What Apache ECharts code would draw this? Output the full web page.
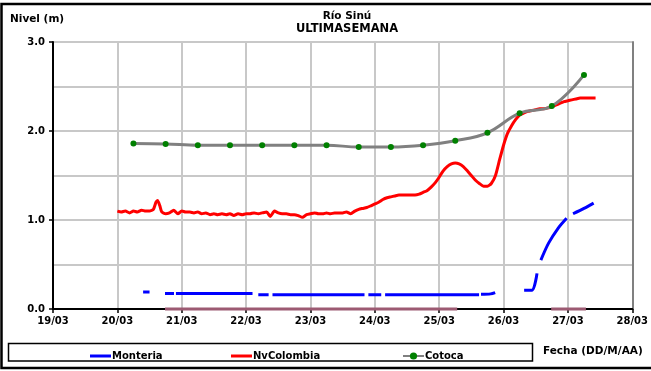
<!DOCTYPE html>
<html>
<head>
<meta charset="utf-8">
<script src="https://cdn.jsdelivr.net/npm/echarts@6/dist/echarts.min.js"></script>
<style>
  html, body { margin: 0; padding: 0; background: #fff; }
  #chart { width: 651px; height: 371px; }
</style>
</head>
<body>
<div id="chart"></div>
<script>
// Day ticks along the time axis (x = days since 19/03 00:00)
const dayLabels = ['19/03', '20/03', '21/03', '22/03', '23/03', '24/03', '25/03', '26/03', '27/03', '28/03'];
const levelLabels = ['0.0', '1.0', '2.0', '3.0'];

// Monteria gauge (null = missing reading, breaks the line)
const monteria = [
  [1.40, 0.19], [1.50, 0.19], [1.55, null],
  [1.74, 0.175], [1.88, 0.175], [1.895, null],
  [1.91, 0.175], [2.50, 0.175], [3.10, 0.175], [3.14, null],
  [3.19, 0.16], [3.35, 0.16], [3.38, null],
  [3.41, 0.16], [4.00, 0.16], [4.84, 0.16], [4.87, null],
  [4.90, 0.16], [5.10, 0.16], [5.13, null],
  [5.16, 0.16], [6.00, 0.16], [6.62, 0.16], [6.635, null],
  [6.65, 0.165], [6.80, 0.17], [6.87, 0.185], [7.00, null],
  [7.32, 0.21], [7.44, 0.21], [7.52, 0.40], [7.55, null],
  [7.58, 0.55], [7.70, 0.74], [7.85, 0.91], [7.98, 1.02], [8.03, null],
  [8.08, 1.07], [8.25, 1.13], [8.40, 1.19]
];

// NvColombia gauge
const nvColombia = [
  [1.000, 1.10], [1.060, 1.09], [1.125, 1.10], [1.190, 1.08], [1.250, 1.10], [1.310, 1.09],
  [1.375, 1.11], [1.440, 1.10], [1.500, 1.10], [1.560, 1.12], [1.600, 1.20], [1.625, 1.22],
  [1.660, 1.16], [1.690, 1.09], [1.750, 1.07], [1.810, 1.08], [1.875, 1.11], [1.940, 1.07],
  [2.000, 1.10], [2.060, 1.09], [2.125, 1.09], [2.190, 1.08], [2.250, 1.09], [2.310, 1.07],
  [2.375, 1.08], [2.440, 1.06], [2.500, 1.07], [2.560, 1.06], [2.625, 1.07], [2.690, 1.06],
  [2.750, 1.07], [2.810, 1.05], [2.875, 1.07], [2.940, 1.06], [3.000, 1.07], [3.060, 1.07],
  [3.125, 1.08], [3.190, 1.07], [3.250, 1.08], [3.320, 1.09], [3.375, 1.04], [3.440, 1.10],
  [3.500, 1.08], [3.560, 1.07], [3.625, 1.07], [3.690, 1.06], [3.750, 1.06], [3.810, 1.05],
  [3.875, 1.03], [3.940, 1.06], [4.000, 1.07], [4.060, 1.08], [4.125, 1.07], [4.190, 1.07],
  [4.250, 1.08], [4.310, 1.07], [4.375, 1.08], [4.440, 1.08], [4.500, 1.08], [4.560, 1.09],
  [4.625, 1.07], [4.690, 1.10], [4.750, 1.12], [4.810, 1.13], [4.875, 1.14], [4.940, 1.16],
  [5.000, 1.18], [5.060, 1.20], [5.125, 1.23], [5.190, 1.25], [5.250, 1.26], [5.310, 1.27],
  [5.375, 1.28], [5.440, 1.28], [5.500, 1.28], [5.560, 1.28], [5.625, 1.28], [5.690, 1.29],
  [5.750, 1.31], [5.810, 1.33], [5.875, 1.37], [5.940, 1.42], [6.000, 1.48], [6.060, 1.55],
  [6.125, 1.60], [6.190, 1.63], [6.250, 1.64], [6.310, 1.63], [6.375, 1.60], [6.440, 1.55],
  [6.500, 1.50], [6.560, 1.45], [6.625, 1.41], [6.690, 1.38], [6.750, 1.38], [6.810, 1.41],
  [6.875, 1.50], [6.940, 1.68], [7.000, 1.84], [7.060, 1.97], [7.125, 2.06], [7.190, 2.13],
  [7.250, 2.18], [7.310, 2.20], [7.375, 2.22], [7.440, 2.23], [7.500, 2.24], [7.560, 2.25],
  [7.625, 2.25], [7.690, 2.26], [7.750, 2.27], [7.810, 2.29], [7.875, 2.31], [7.940, 2.33],
  [8.000, 2.34], [8.060, 2.35], [8.125, 2.36], [8.190, 2.37], [8.250, 2.37], [8.310, 2.37],
  [8.375, 2.37], [8.430, 2.37]
];

// Cotoca gauge, 12-hourly readings
const cotoca = [
  [1.25, 1.86], [1.75, 1.855], [2.25, 1.84], [2.75, 1.84], [3.25, 1.84],
  [3.75, 1.84], [4.25, 1.84], [4.75, 1.82], [5.25, 1.82], [5.75, 1.84],
  [6.25, 1.89], [6.75, 1.98], [7.25, 2.20], [7.75, 2.28], [8.25, 2.63]
];

// Readings reported as zero
const zeroReadings = [
  [1.74, 0], [6.28, 0], [6.30, null],
  [7.74, 0], [8.28, 0]
];

const FONT = 'DejaVu Sans';
const chart = echarts.init(document.getElementById('chart'), null, { renderer: 'canvas' });

function legendAt(left, name, plainLine) {
  const lg = {
    left: left, top: 346, orient: 'horizontal',
    data: [name], itemWidth: 21, itemHeight: plainLine ? 3 : 9, itemGap: 0,
    textStyle: { fontFamily: FONT, fontWeight: 'bold', fontSize: 10, color: '#000', padding: [0, 0, 0, -4] },
    selectedMode: false
  };
  if (plainLine) lg.icon = 'rect';
  return lg;
}

chart.setOption({
  animation: false,
  backgroundColor: '#fff',
  title: {
    text: 'Río Sinú',
    subtext: 'ULTIMASEMANA',
    left: 342, top: 6, textAlign: 'center', itemGap: 1,
    textStyle: { fontFamily: FONT, fontWeight: 'bold', fontSize: 10.5, color: '#000' },
    subtextStyle: { fontFamily: FONT, fontWeight: 'bold', fontSize: 11.5, color: '#000' }
  },
  legend: [legendAt(85, 'Monteria', true), legendAt(226, 'NvColombia', true), legendAt(397, 'Cotoca', false)],
  grid: { left: 53, right: 17, top: 42, bottom: 62, containLabel: false },
  xAxis: {
    type: 'value', min: 0, max: 9, interval: 1,
    axisLine: { show: true, onZero: false, lineStyle: { color: '#000', width: 2 } },
    axisTick: { show: true, length: 4, lineStyle: { color: '#000', width: 1.5 } },
    axisLabel: {
      margin: 7, color: '#000', fontFamily: FONT, fontWeight: 'bold', fontSize: 10,
      formatter: v => dayLabels[Math.round(v)] || ''
    },
    splitLine: { show: true, lineStyle: { color: '#c8c8c8', width: 2 } }
  },
  yAxis: [{
    type: 'value', min: 0, max: 3, interval: 1,
    axisLine: { show: true, lineStyle: { color: '#000', width: 2 } },
    axisTick: { show: true, length: 4, lineStyle: { color: '#000', width: 1.5 } },
    axisLabel: {
      margin: 8, color: '#000', fontFamily: FONT, fontWeight: 'bold', fontSize: 10,
      formatter: v => levelLabels[Math.round(v)] || ''
    },
    splitLine: { show: true, lineStyle: { color: '#c8c8c8', width: 2 } },
    minorTick: { show: false, splitNumber: 2 },
    minorSplitLine: { show: true, lineStyle: { color: '#c8c8c8', width: 2 } }
  }, {
    type: 'value', min: 0, max: 3, position: 'right',
    axisLine: { show: true, lineStyle: { color: '#808080', width: 2 } },
    axisTick: { show: false }, axisLabel: { show: false }, splitLine: { show: false }
  }],
  series: [
    {
      name: 'zero', type: 'line', data: zeroReadings, symbol: 'none', connectNulls: false, clip: false,
      lineStyle: { color: '#9c5a72', width: 3 }, zlevel: 1, z: 3, silent: true
    },
    {
      name: 'Monteria', type: 'line', data: monteria, symbol: 'none', connectNulls: false, smooth: 0.3,
      color: '#0000ff', lineStyle: { color: '#0000ff', width: 3 }, z: 4
    },
    {
      name: 'NvColombia', type: 'line', data: nvColombia, symbol: 'none', smooth: 0.2,
      color: '#ff0000', lineStyle: { color: '#ff0000', width: 3 }, z: 5
    },
    {
      name: 'Cotoca', type: 'line', data: cotoca, smooth: 0.4,
      symbol: 'circle', symbolSize: 6, showSymbol: true,
      color: '#808080',
      lineStyle: { color: '#808080', width: 3 },
      itemStyle: { color: '#008000', borderWidth: 0 }, z: 6
    }
  ],
  graphic: [
    { type: 'rect', shape: { x: 1.5, y: 4, width: 680, height: 364 }, style: { fill: 'none', stroke: '#000', lineWidth: 2.5 }, silent: true },
    { type: 'rect', shape: { x: 8.5, y: 343.5, width: 524, height: 17.5 }, style: { fill: 'none', stroke: '#000', lineWidth: 1.5 }, silent: true },
    { type: 'text', left: 10, top: 14, style: { text: 'Nivel (m)', fill: '#000', font: 'bold 10.5px "DejaVu Sans"' } },
    { type: 'text', left: 543, top: 346, style: { text: 'Fecha (DD/M/AA)', fill: '#000', font: 'bold 10.5px "DejaVu Sans"' } }
  ]
});
</script>
</body>
</html>
